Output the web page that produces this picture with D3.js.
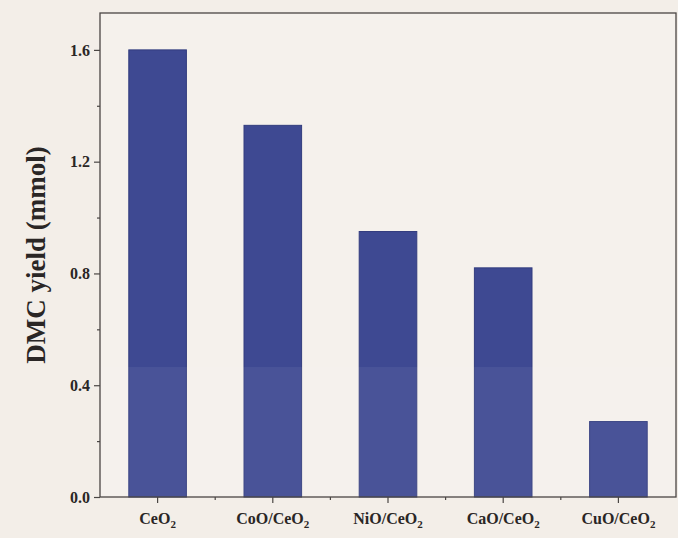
<!DOCTYPE html>
<html>
<head>
<meta charset="utf-8">
<script src="https://cdn.jsdelivr.net/npm/d3@7"></script>
<style>
  body { margin: 0; background: #f3eee8; }
  svg { display: block; }
  text { font-family: "Liberation Serif", "Times New Roman", serif; font-weight: bold; fill: #2a2625; }
</style>
</head>
<body>
<svg width="678" height="538"></svg>
<script>
var svg = d3.select("svg"),
	width = +svg.attr("width"),
	height = +svg.attr("height");

// data
var catalysts = ["CeO", "CoO/CeO", "NiO/CeO", "CaO/CeO", "CuO/CeO"];
var dmcYield = [1.60, 1.33, 0.95, 0.82, 0.27];
var yTicks = [0.0, 0.4, 0.8, 1.2, 1.6];
var yMinor = [0.2, 0.6, 1.0, 1.4];

var margin = {top: 13, right: 2, bottom: 41, left: 100};
var plotW = width - margin.left - margin.right,
	plotH = height - margin.top - margin.bottom;

var g = svg.append("g")
	.attr("transform", "translate(" + margin.left + "," + margin.top + ")");

var x = d3.scaleBand()
	.domain(catalysts)
	.range([0, plotW])
	.paddingInner(0.5)
	.paddingOuter(0.25);

var y = d3.scaleLinear()
	.domain([0, 1.732])
	.range([plotH, 0]);

// background
g.append("rect")
	.attr("width", plotW)
	.attr("height", plotH)
	.attr("fill", "#f5f1ec");

// bars
g.selectAll(".bar")
	.data(dmcYield)
	.enter().append("rect")
	.attr("class", "bar")
	.attr("x", function (d, i) { return x(catalysts[i]); })
	.attr("y", function (d) { return y(d); })
	.attr("width", x.bandwidth())
	.attr("height", function (d) { return plotH - y(d); })
	.attr("fill", "#3e4992")
	.attr("stroke", "#323c7e")
	.attr("stroke-width", 1);

// the scan is a little lighter in its lower part
g.append("rect")
	.attr("x", 0)
	.attr("y", y(0.465))
	.attr("width", plotW)
	.attr("height", plotH - y(0.465))
	.attr("fill", "#ffffff")
	.attr("opacity", 0.06);

// frame
g.append("rect")
	.attr("width", plotW)
	.attr("height", plotH)
	.attr("fill", "none")
	.attr("stroke", "#4a4644")
	.attr("stroke-width", 1.3);

// y axis
var yAxis = g.append("g")
	.call(d3.axisLeft(y).tickValues(yTicks).tickFormat(d3.format(".1f")).tickSize(6).tickPadding(4));
yAxis.select(".domain").remove();
yAxis.selectAll("line").attr("stroke", "#4a4644").attr("stroke-width", 1.2);
yAxis.selectAll("text").style("font-size", "16px");

var yMin = g.append("g")
	.call(d3.axisLeft(y).tickValues(yMinor).tickFormat("").tickSize(3));
yMin.select(".domain").remove();
yMin.selectAll("line").attr("stroke", "#4a4644").attr("stroke-width", 1.2);

// x axis
var xAxis = g.append("g")
	.attr("transform", "translate(0," + plotH + ")")
	.call(d3.axisBottom(x).tickSize(6));
xAxis.select(".domain").remove();
xAxis.selectAll("line").attr("stroke", "#4a4644").attr("stroke-width", 1.2);
xAxis.selectAll("text").remove();

// minor x ticks between categories
var bounds = catalysts.slice(1).map(function (c) { return x(c) - x.step() * x.paddingInner() / 2; });
g.selectAll(".xminor")
	.data(bounds)
	.enter().append("line")
	.attr("x1", function (d) { return d; })
	.attr("x2", function (d) { return d; })
	.attr("y1", plotH)
	.attr("y2", plotH + 3)
	.attr("stroke", "#4a4644")
	.attr("stroke-width", 1.2);

// x labels with subscript 2
var lab = g.selectAll(".xlab")
	.data(catalysts)
	.enter().append("text")
	.attr("class", "xlab")
	.attr("x", function (d) { return x(d) + x.bandwidth() / 2; })
	.attr("y", plotH + 27)
	.attr("text-anchor", "middle")
	.style("font-size", "16px");
lab.append("tspan").text(function (d) { return d; });
lab.append("tspan").attr("dy", 4).style("font-size", "11px").text("2");

// y title
svg.append("text")
	.attr("transform", "translate(45," + (margin.top + plotH / 2) + ") rotate(-90)")
	.attr("text-anchor", "middle")
	.style("font-size", "27px")
	.text("DMC yield (mmol)");
</script>
</body>
</html>
